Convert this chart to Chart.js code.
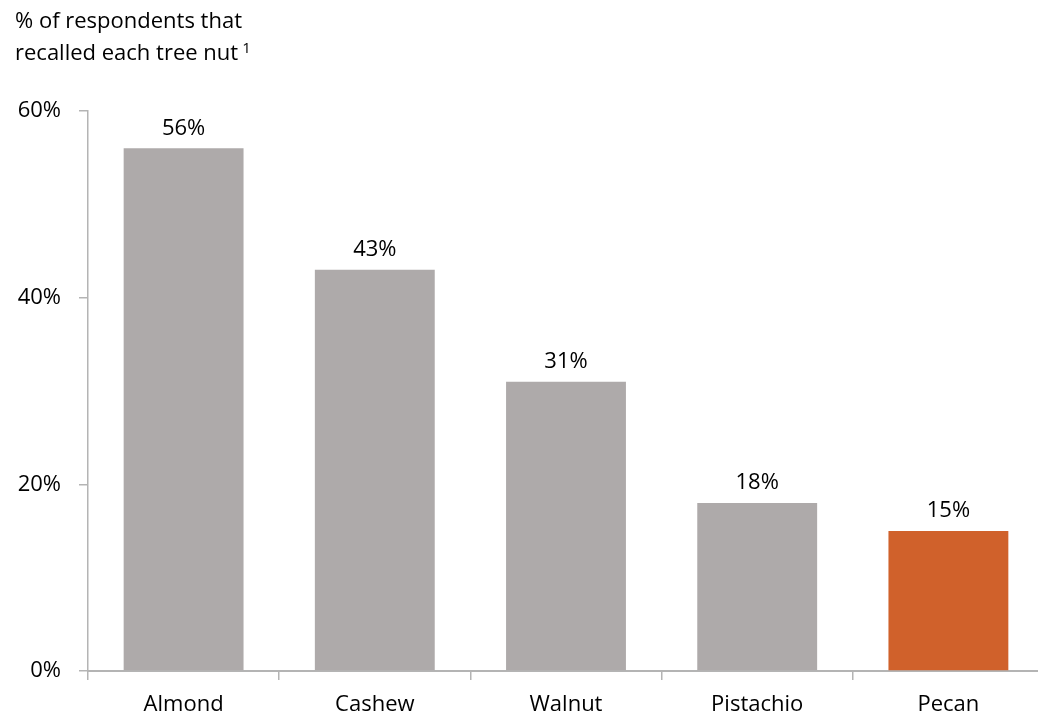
<!DOCTYPE html>
<html>
<head>
<meta charset="utf-8">
<script src="https://cdn.jsdelivr.net/npm/chart.js@4/dist/chart.umd.min.js"></script>
<style>
  html, body { margin: 0; padding: 0; background: #fff; overflow: hidden; }
  #wrap { width: 1046px; height: 721px; }
</style>
</head>
<body>
<div id="wrap"><canvas id="graficoNozes" width="1046" height="721"></canvas></div>
<script>
// dados
const categories = ['Almond', 'Cashew', 'Walnut', 'Pistachio', 'Pecan'];
const recallValues = [56, 43, 31, 18, 15];
const yTicks = [0, 20, 40, 60];
const barColors = ['#AEAAAA', '#AEAAAA', '#AEAAAA', '#AEAAAA', '#D0612B'];

const FONT = '"Open Sans", "Noto Sans", sans-serif';
const FSIZE = 22;
const AXIS_GRAY = '#B4B4B4';

// rótulos acima das barras + título
const labelsPlugin = {
  id: 'labelsPlugin',
  afterDatasetsDraw(chart) {
    const ctx = chart.ctx;
    const meta = chart.getDatasetMeta(0);
    ctx.save();
    ctx.font = FSIZE + 'px ' + FONT;
    ctx.fillStyle = '#000';
    ctx.textAlign = 'center';
    ctx.textBaseline = 'middle';
    meta.data.forEach((bar, i) => {
      ctx.fillText(recallValues[i] + '%', bar.x, bar.y - 20);
    });
    ctx.restore();
  },
  afterDraw(chart) {
    const ctx = chart.ctx;
    ctx.save();
    ctx.fillStyle = '#000';
    ctx.font = FSIZE + 'px ' + FONT;
    ctx.textAlign = 'left';
    ctx.textBaseline = 'middle';
    ctx.fillText('% of respondents that', 15, 22);
    const line2 = 'recalled each tree nut';
    ctx.fillText(line2, 15, 54);
    const w = ctx.measureText(line2).width;
    ctx.font = '15px ' + FONT;
    ctx.fillText('1', 15 + w + 4, 49);
    ctx.restore();
  }
};

const config = {
  type: 'bar',
  data: {
    labels: categories,
    datasets: [{
      data: recallValues,
      backgroundColor: barColors,
      borderWidth: 0,
      categoryPercentage: 1,
      barPercentage: 0.627
    }]
  },
  options: {
    responsive: false,
    animation: false,
    events: [],
    layout: { padding: { top: 111, left: 0, right: 2, bottom: 0 } },
    plugins: {
      legend: { display: false },
      tooltip: { enabled: false }
    },
    scales: {
      x: {
        offset: true,
        grid: {
          offset: true,
          drawOnChartArea: false,
          drawTicks: true,
          tickLength: 9,
          color: AXIS_GRAY,
          lineWidth: 1.5
        },
        border: { color: AXIS_GRAY, width: 2 },
        ticks: {
          color: '#000',
          font: { family: FONT, size: FSIZE },
          padding: 12,
          maxRotation: 0
        },
        afterFit(scale) { scale.height = 50; }
      },
      y: {
        min: 0,
        max: 60,
        afterBuildTicks(scale) {
          scale.ticks = yTicks.map(v => ({ value: v }));
        },
        grid: {
          drawOnChartArea: false,
          drawTicks: true,
          tickLength: 9,
          color: AXIS_GRAY,
          lineWidth: 1.5
        },
        border: { color: AXIS_GRAY, width: 1.5 },
        ticks: {
          color: '#000',
          font: { family: FONT, size: FSIZE },
          padding: 18,
          callback: v => v + '%'
        },
        afterFit(scale) { scale.width = 88; }
      }
    }
  },
  plugins: [labelsPlugin]
};

const ctx = document.getElementById('graficoNozes').getContext('2d');
new Chart(ctx, config);
</script>
</body>
</html>
